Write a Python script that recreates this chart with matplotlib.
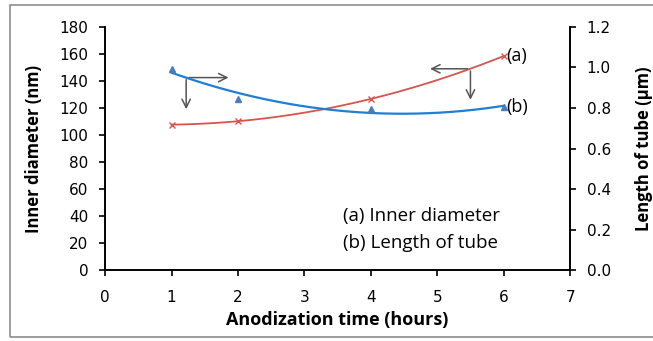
import numpy as np
import matplotlib.pyplot as plt
from matplotlib.patches import Rectangle

hours = [1, 2, 4, 6]
inner_diameter = [107.5, 110.5, 126.5, 158.5]   # nm
tube_length = [0.99, 0.845, 0.795, 0.805]        # um

fig = plt.figure(figsize=(6.53, 3.41), dpi=100)
fig.patches.append(Rectangle((10 / 653, 4 / 341), 1.2, 0.975, transform=fig.transFigure,
                             fill=False, edgecolor='#8c8c8c', linewidth=1.2))

ax1 = fig.add_axes([0.161, 0.208, 0.712, 0.713])
ax2 = ax1.twinx()

xs = np.linspace(1, 6, 200)
fit_a = np.polyval(np.polyfit(hours, inner_diameter, 2), xs)
fit_b = np.polyval(np.polyfit(hours, tube_length, 2), xs)

ax1.plot(xs, fit_a, color='#d9534f', lw=1.3)
ax1.plot(hours, inner_diameter, 'x', color='#d9534f', ms=5, mew=1)
ax2.plot(xs, fit_b, color='#1f7fd6', lw=1.6)
ax2.plot(hours, tube_length, '^', color='#4a7ebb', ms=5)

ax1.set_xlim(0, 7)
ax1.set_ylim(0, 180)
ax2.set_ylim(0, 1.2)
ax1.set_xticks(range(0, 8))
ax1.set_yticks(range(0, 181, 20))
ax2.set_yticks(np.arange(0, 1.21, 0.2))
ax2.set_yticklabels(['%.1f' % v for v in np.arange(0, 1.21, 0.2)])

for ax in (ax1, ax2):
    ax.spines['top'].set_visible(False)
    for s in ax.spines.values():
        s.set_linewidth(1.2)
    ax.tick_params(direction='out', length=4, width=1.2, labelsize=11, colors='black', pad=8)
ax1.tick_params(axis='x', pad=10)

ax1.set_xlabel('Anodization time (hours)', fontsize=13, fontweight='bold', family='Open Sans', labelpad=5)
ax1.set_ylabel('Inner diameter (nm)', fontsize=12, fontweight='bold', family='Open Sans', labelpad=12)
ax2.set_ylabel('Length of tube (µm)', fontsize=12, fontweight='bold', family='Open Sans', labelpad=17)

arrow = dict(arrowstyle='->', color='#555555', lw=1.1, mutation_scale=15)
ax1.annotate('', xy=(1.9, 142.5), xytext=(1.22, 142.5), arrowprops=arrow)
ax1.annotate('', xy=(1.22, 117), xytext=(1.22, 143), arrowprops=arrow)
ax1.annotate('', xy=(4.85, 149), xytext=(5.5, 149), arrowprops=arrow)
ax1.annotate('', xy=(5.5, 124), xytext=(5.5, 149.5), arrowprops=arrow)

ax1.text(6.04, 158.5, '(a)', fontsize=13, va='center', family='Open Sans')
ax1.text(6.04, 121, '(b)', fontsize=13, va='center', family='Open Sans')
ax1.text(3.58, 40, '(a) Inner diameter', fontsize=13.5, va='center', family='Open Sans')
ax1.text(3.58, 20, '(b) Length of tube', fontsize=13.5, va='center', family='Open Sans')

fig.savefig('out.png', dpi=100)
